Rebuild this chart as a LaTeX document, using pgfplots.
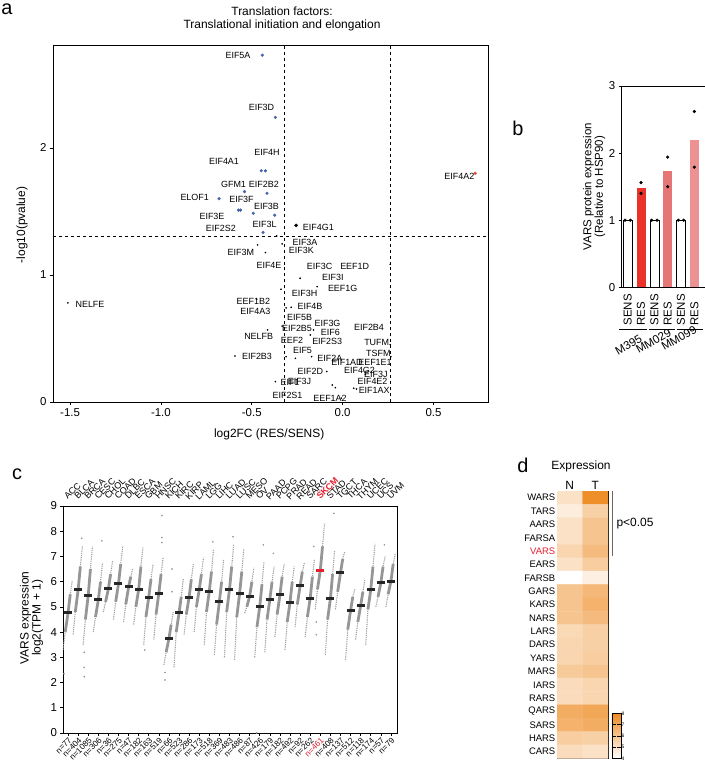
\documentclass[border=0pt]{standalone}
\usepackage{fontspec}
\setmainfont{Liberation Sans}
\usepackage{pgfplots}
\pgfplotsset{compat=1.18}
\usepackage{pgfplotstable}

\definecolor{ptblue}{RGB}{68,100,172}
\definecolor{ptred}{RGB}{222,82,60}
\definecolor{resA}{RGB}{232,50,42}
\definecolor{resB}{RGB}{230,118,118}
\definecolor{resC}{RGB}{236,146,146}
\definecolor{dotgray}{RGB}{150,150,150}
\definecolor{hlred}{RGB}{230,30,45}

\newcommand{\myfs}[1]{\fontsize{#1}{#1}\selectfont}
\newcommand{\lab}[3]{\node[font=\myfs{9}, inner sep=0pt] at (#1bp,761bp-#2bp) {#3};}

% panel a: volcano points
\pgfplotstableread{
x y
-0.442 2.73
-0.370 2.24
-0.448 1.82
-0.425 1.82
-0.540 1.656
-0.416 1.643
-0.680 1.60
-0.573 1.51
-0.562 1.51
-0.492 1.486
-0.374 1.47
-0.438 1.335
}\bluepts
\pgfplotstableread{
x y
-0.363 1.307
-0.333 1.244
-0.468 1.236
-0.425 1.176
0.262 1.084
-0.234 0.974
-0.140 0.908
-0.339 0.887
-1.512 0.78
-0.473 0.81
-0.311 0.74
-0.283 0.745
-0.333 0.598
-0.413 0.567
-0.160 0.567
-0.178 0.528
-0.593 0.362
-0.311 0.357
-0.260 0.344
-0.171 0.357
-0.087 0.24
-0.057 0.134
-0.040 0.113
-0.370 0.16
0.061 0.108
0.076 0.102
0.125 0.218
0.265 0.357
0.262 0.45
-0.007 0.03
}\blackpts

% panel c: sorted expression per cancer type (min, lo, median, hi, max)
\pgfplotstableread{
x y k
-0.5 3.3 0
-0.28 4.0 1
0 4.76 1
0.22 5.5 1
0.42 6.05 0
nan nan 0
0.5 3.9 0
0.72 4.8 1
1 5.68 1
1.22 6.6 1
1.42 7.4 0
nan nan 0
1.5 3.5 0
1.72 4.5 1
2 5.46 1
2.22 6.5 1
2.42 7.4 0
nan nan 0
2.5 4.0 0
2.72 4.6 1
3 5.28 1
3.22 6.0 1
3.42 6.75 0
nan nan 0
3.5 4.8 0
3.72 5.2 1
4 5.72 1
4.22 6.3 1
4.42 6.83 0
nan nan 0
4.5 4.5 0
4.72 5.2 1
5 5.92 1
5.22 6.7 1
5.42 7.39 0
nan nan 0
5.5 4.4 0
5.72 5.1 1
6 5.79 1
6.22 6.2 1
6.42 6.53 0
nan nan 0
6.5 4.3 0
6.72 5.0 1
7 5.69 1
7.22 6.6 1
7.42 7.36 0
nan nan 0
7.5 3.5 0
7.72 4.6 1
8 5.39 1
8.22 6.1 1
8.42 6.7 0
nan nan 0
8.5 3.7 0
8.72 4.7 1
9 5.55 1
9.22 6.3 1
9.42 6.95 0
nan nan 0
9.5 2.7 0
9.72 3.2 1
10 3.74 1
10.22 4.3 1
10.42 4.8 0
nan nan 0
10.5 2.6 0
10.72 4.0 1
11 4.76 1
11.22 5.4 1
11.42 6.1 0
nan nan 0
11.5 3.9 0
11.72 4.7 1
12 5.39 1
12.22 6.1 1
12.42 6.7 0
nan nan 0
12.5 4.0 0
12.72 5.0 1
13 5.68 1
13.22 6.3 1
13.42 6.95 0
nan nan 0
13.5 3.5 0
13.72 4.8 1
14 5.63 1
14.22 6.4 1
14.42 7.3 0
nan nan 0
14.5 3.1 0
14.72 4.3 1
15 5.22 1
15.22 6.0 1
15.42 6.9 0
nan nan 0
15.5 3.0 0
15.72 4.8 1
16 5.69 1
16.22 6.6 1
16.42 7.5 0
nan nan 0
16.5 2.9 0
16.72 4.6 1
17 5.52 1
17.22 6.4 1
17.42 7.3 0
nan nan 0
17.5 4.75 0
17.72 5.0 1
18 5.43 1
18.22 6.0 1
18.42 6.55 0
nan nan 0
18.5 3.0 0
18.72 4.2 1
19 5.02 1
19.22 5.9 1
19.42 6.8 0
nan nan 0
19.5 3.2 0
19.72 4.5 1
20 5.30 1
20.22 6.0 1
20.42 6.6 0
nan nan 0
20.5 3.8 0
20.72 4.7 1
21 5.48 1
21.22 6.2 1
21.42 6.7 0
nan nan 0
21.5 3.3 0
21.72 4.4 1
22 5.19 1
22.22 6.0 1
22.42 6.6 0
nan nan 0
22.5 4.2 0
22.72 5.1 1
23 5.83 1
23.22 6.4 1
23.42 6.75 0
nan nan 0
23.5 3.8 0
23.72 4.6 1
24 5.35 1
24.22 6.2 1
24.42 6.9 0
nan nan 0
24.5 4.9 0
24.72 5.7 1
25 6.45 1
25.22 7.4 1
25.42 8.3 0
nan nan 0
25.5 3.1 0
25.72 4.5 1
26 5.32 1
26.22 6.3 1
26.42 7.25 0
nan nan 0
26.5 4.9 0
26.72 5.6 1
27 6.35 1
27.22 6.9 1
27.42 7.19 0
nan nan 0
27.5 2.9 0
27.72 4.1 1
28 4.86 1
28.22 5.4 1
28.42 5.7 0
nan nan 0
28.5 3.7 0
28.72 4.4 1
29 5.06 1
29.22 5.6 1
29.42 6.1 0
nan nan 0
29.5 3.5 0
29.72 4.9 1
30 5.69 1
30.22 6.6 1
30.42 7.5 0
nan nan 0
30.5 5.0 0
30.72 5.4 1
31 5.96 1
31.22 6.6 1
31.42 7.0 0
nan nan 0
31.5 5.0 0
31.72 5.5 1
32 6.02 1
32.22 6.7 1
32.42 7.1 0
}\curves
\pgfplotstableread{
x y
-0.4 2.35
1.35 7.72
1.6 3.2
1.6 2.6
1.6 2.23
3.35 7.62
7.6 3.29
9.3 8.62
9.3 7.75
9.3 7.55
10.3 6.5
10.3 5.6
9.6 2.1
9.6 2.4
14.35 7.58
16.35 7.78
18.7 0
19.35 7.46
20.35 7.12
24.35 7.39
24.6 3.9
24.6 4.4
26.35 8.71
31.35 7.46
}\outl
\pgfplotstableread{
x y
0 4.76
1 5.68
2 5.46
3 5.28
4 5.72
5 5.92
6 5.79
7 5.69
8 5.39
9 5.55
10 3.74
11 4.76
12 5.39
13 5.68
14 5.63
15 5.22
16 5.69
17 5.52
18 5.43
19 5.02
20 5.30
21 5.48
22 5.19
23 5.83
24 5.35
26 5.32
27 6.35
28 4.86
29 5.06
30 5.69
31 5.96
32 6.02
}\medians

% panel d: heatmap (row 0 = WARS ... row 19 = CARS), N and T
\pgfplotstableread{
x y c
0 0 5.0
1 0 7.8
0 1 4.6
1 1 5.6
0 2 5.0
1 2 6.0
0 3 5.0
1 3 6.0
0 4 5.4
1 4 6.3
0 5 5.0
1 5 5.7
0 6 4.0
1 6 4.5
0 7 6.0
1 7 6.4
0 8 6.0
1 8 6.6
0 9 6.0
1 9 6.3
0 10 5.3
1 10 5.6
0 11 5.4
1 11 5.6
0 12 5.4
1 12 5.7
0 13 5.8
1 13 6.0
0 14 5.2
1 14 5.4
0 15 5.2
1 15 5.4
0 16 6.8
1 16 7.0
0 17 6.6
1 17 6.8
0 18 5.7
1 18 5.6
0 19 5.2
1 19 5.0
}\heat

\pgfplotsset{
  every axis/.append style={
    scale only axis, anchor=south west,
    /pgf/number format/assume math mode=true,
    axis line style={line width=0.8pt},
    tick style={line width=0.6pt, black},
    tick align=outside,
    tick label style={font=\myfs{11.5}},
    label style={font=\myfs{12}},
  },
}

\begin{document}
\begin{tikzpicture}
\useasboundingbox (0,0) rectangle (705bp,761bp);

% ---------- a ----------
\begin{axis}[
  at={(53bp,359bp)}, width=435bp, height=357bp,
  xmin=-1.594, xmax=0.80, ymin=0, ymax=2.81,
  xtick={-1.5,-1,-0.5,0,0.5}, xticklabels={-1.5,-1.0,-0.5,0.0,0.5},
  ytick={0,1,2},
  tick pos=left, major tick length=3bp,
  xlabel={log2FC (RES/SENS)}, ylabel={-log10(pvalue)},
  xlabel style={at={(axis description cs:0.497,-0.092)}, anchor=center},
  ylabel style={at={(axis description cs:-0.071,0.496)}, anchor=center},
]
\addplot[black, dashed, line width=0.6pt] coordinates {(-0.322,0) (-0.322,2.81)};
\addplot[black, dashed, line width=0.6pt] coordinates {(0.263,0) (0.263,2.81)};
\addplot[black, dashed, line width=0.6pt] coordinates {(-1.594,1.301) (0.80,1.301)};
\addplot[only marks, mark=*, mark size=0.6bp, black] table {\blackpts};
\addplot[only marks, mark=*, mark size=1.4bp, ptblue] table {\bluepts};
\addplot[only marks, mark=*, mark size=1.6bp, black] coordinates {(-0.256,1.39)};
\addplot[only marks, mark=*, mark size=1.5bp, ptred] coordinates {(0.729,1.80)};
\end{axis}

% ---------- b ----------
\begin{axis}[
  at={(621.7bp,473.7bp)}, width=83.3bp, height=201.3bp,
  xmin=-0.45, xmax=5.8, ymin=0, ymax=3,
  ytick={0,1,2,3}, ytick pos=left, major tick length=3bp,
  xtick={0,...,5}, xticklabels={SENS,RES,SENS,RES,SENS,RES},
  xtick style={draw=none},
  xticklabel style={rotate=90, anchor=east, text width=34bp, align=left,
    font=\myfs{11.5}, inner sep=1bp},
  ylabel={VARS protein expression\\(Relative to HSP90)},
  ylabel style={align=center, at={(axis description cs:-0.33,0.5)},
    anchor=center, font=\myfs{11.5}},
  bar width=9bp,
]
\addplot[ybar, draw=black, fill=white, line width=0.7pt] coordinates {(0,1) (2,1) (4,1)};
\addplot[ybar, draw=none, fill=resA] coordinates {(1,1.48)};
\addplot[ybar, draw=none, fill=resB] coordinates {(3,1.73)};
\addplot[ybar, draw=none, fill=resC] coordinates {(5,2.2)};
\addplot[only marks, mark=*, mark size=1.4bp, black] coordinates {
  (-0.2,1) (0.2,1) (1,1.56) (1,1.40) (1.8,1) (2.2,1)
  (3,1.94) (3,1.50) (3.8,1) (4.2,1) (5,2.62) (5,1.79)};
\end{axis}

% ---------- c ----------
\begin{axis}[
  at={(63bp,28bp)}, width=334bp, height=227bp,
  xmin=-0.5, xmax=32.6, ymin=0, ymax=9,
  ytick={0,...,9}, tick pos=left, major tick length=2.5bp,
  xtick={0,...,32},
  xticklabels={{n=77},{n=404},{n=1085},{n=306},{n=36},{n=275},{n=47},{n=182},{n=163},{n=519},{n=66},{n=523},{n=286},{n=173},{n=518},{n=369},{n=483},{n=486},{n=87},{n=426},{n=179},{n=182},{n=492},{n=92},{n=262},{\color{hlred}n=461},{n=408},{n=137},{n=512},{n=118},{n=174},{n=57},{n=79}},
  xticklabel style={rotate=45, anchor=north east, font=\myfs{8.2}, inner sep=1bp},
  ylabel={VARS expression\\log2(TPM + 1)},
  ylabel style={align=center, at={(axis description cs:-0.094,0.507)}, anchor=center},
  unbounded coords=jump,
]
\addplot[dotgray!90, line width=1.1pt, loosely dashed, dash pattern=on 1.2pt off 1pt] table[x=x, y=y] {\curves};
\addplot[dotgray, line width=2.8pt, restrict expr to domain={\thisrow{k}}{0.5:1.5}] table[x=x, y=y] {\curves};
\addplot[only marks, mark=*, mark size=0.6bp, dotgray] table {\outl};
\addplot[only marks, mark=-, mark size=4bp, mark options={line width=3bp}, black!85] table {\medians};
\addplot[only marks, mark=-, mark size=4bp, mark options={line width=3bp}, hlred] coordinates {(25,6.45)};
\end{axis}
\begin{axis}[
  at={(63bp,28bp)}, width=334bp, height=227bp,
  xmin=-0.5, xmax=32.6, ymin=0, ymax=9,
  axis x line*=top, axis y line=none,
  xtick={0,...,32},
  xticklabels={ACC,BLCA,BRCA,CESC,CHOL,COAD,DLBC,ESCA,GBM,HNSC,KICH,KIRC,KIRP,LAML,LGG,LIHC,LUAD,LUSC,MESO,OV,PAAD,PCPG,PRAD,READ,SARC,{\color{hlred}\bfseries SKCM},STAD,TGCT,THCA,THYM,UCEC,UCS,UVM},
  xtick style={draw=none},
  xticklabel style={rotate=45, anchor=south west, font=\myfs{9}, inner sep=1bp},
]
\addplot[draw=none] coordinates {(0,0)};
\end{axis}

% ---------- d ----------
\begin{axis}[
  at={(557bp,2.7bp)}, width=51bp, height=267.3bp,
  xmin=-0.5, xmax=1.5, ymin=-0.5, ymax=19.5, y dir=reverse,
  xtick={0,1}, xticklabels={N,T}, xticklabel pos=upper,
  xticklabel style={font=\myfs{12}, inner sep=1bp},
  ytick={0,...,19},
  yticklabels={WARS,TARS,AARS,FARSA,{\color{hlred}VARS},EARS,FARSB,GARS,KARS,NARS,LARS,DARS,YARS,MARS,IARS,RARS,QARS,SARS,HARS,CARS},
  yticklabel style={font=\myfs{9.5}, inner sep=1.5bp},
  major tick length=0pt,
  colormap={orng}{rgb255(0cm)=(255,255,255); rgb255(1cm)=(238,138,32)},
  point meta min=4, point meta max=8,
  colorbar,
  colorbar style={
    at={(1.078,0)}, anchor=south west,
    width=9bp, height=45bp, scale only axis,
    ytick={4,5,6,7,8},
    yticklabel style={font=\myfs{5}, inner sep=0.5bp},
    major tick length=9bp, tick align=inside,
    ytick style={densely dashed, line width=0.5pt},
    axis line style={line width=0.8pt},
  },
]
\addplot[matrix plot*, mesh/cols=2, point meta=explicit] table[x=x, y=y, meta=c] {\heat};
\end{axis}

% ---------- texts and decorations ----------
\node[font=\fontsize{12}{12.7}\selectfont, align=center] at (282bp,742bp)
  {Translation factors:\\Translational initiation and elongation};

\node[font=\myfs{20}] at (7bp,752bp) {a};
\node[font=\myfs{20}] at (518bp,633bp) {b};
\node[font=\myfs{20}] at (17bp,287bp) {c};
\node[font=\myfs{20}] at (523bp,296bp) {d};

\lab{238}{55}{EIF5A}
\lab{261.5}{107}{EIF3D}
\lab{267}{152}{EIF4H}
\lab{224}{161}{EIF4A1}
\lab{233.5}{184}{GFM1}
\lab{263.8}{184}{EIF2B2}
\lab{194.7}{197.3}{ELOF1}
\lab{241.5}{199.3}{EIF3F}
\lab{266.5}{206}{EIF3B}
\lab{212}{216.7}{EIF3E}
\lab{264.7}{224}{EIF3L}
\lab{220.8}{228.7}{EIF2S2}
\lab{318.3}{227.3}{EIF4G1}
\lab{305}{242.7}{EIF3A}
\lab{301.3}{250.7}{EIF3K}
\lab{240.8}{252.7}{EIF3M}
\lab{269}{265.7}{EIF4E}
\lab{319.7}{266.7}{EIF3C}
\lab{354.7}{266.7}{EEF1D}
\lab{332.8}{277.7}{EIF3I}
\lab{342.7}{288}{EEF1G}
\lab{304.7}{293.3}{EIF3H}
\lab{90}{304}{NELFE}
\lab{253.3}{301}{EEF1B2}
\lab{255.3}{311.3}{EIF4A3}
\lab{310}{306.7}{EIF4B}
\lab{299.7}{317.7}{EIF5B}
\lab{327.5}{323.3}{EIF3G}
\lab{297}{328.3}{EIF2B5}
\lab{369}{327.3}{EIF2B4}
\lab{330.3}{332}{EIF6}
\lab{258.7}{336.7}{NELFB}
\lab{292}{340.7}{EEF2}
\lab{327.2}{341.7}{EIF2S3}
\lab{376.7}{342.7}{TUFM}
\lab{302.5}{350}{EIF5}
\lab{378.3}{353.3}{TSFM}
\lab{257}{356.7}{EIF2B3}
\lab{329.8}{358.3}{EIF2A}
\lab{347}{362.7}{EIF1AD}
\lab{375}{362.7}{EEF1E1}
\lab{310.3}{371}{EIF2D}
\lab{359.5}{370.7}{EIF4G2}
\lab{375.8}{374}{EIF3J}
\lab{372.5}{381.7}{EIF4E2}
\lab{299.5}{381.7}{EIF3J}
\lab{290}{382.7}{EIF1}
\lab{374.2}{390.7}{EIF1AX}
\lab{287.5}{395}{EIF2S1}
\lab{330}{398.3}{EEF1A2}
\lab{459.3}{176.7}{EIF4A2}

% b: cell line groups
\draw[line width=0.6pt] (619bp,432bp) -- (647bp,432bp);
\draw[line width=0.6pt] (649bp,432bp) -- (675bp,432bp);
\draw[line width=0.6pt] (677bp,432bp) -- (703bp,432bp);
\node[font=\myfs{11.5}, rotate=30, inner sep=0pt] at (628.5bp,416bp) {M395};
\node[font=\myfs{11.5}, rotate=30, inner sep=0pt] at (653.5bp,420bp) {MM029};
\node[font=\myfs{11.5}, rotate=30, inner sep=0pt] at (679bp,423bp) {MM099};

% d: title, significance bracket
\node[font=\myfs{12}, inner sep=0pt] at (581bp,295bp) {Expression};
\draw[gray!80!black, line width=0.8pt] (612bp,270bp) -- (612bp,205bp);
\node[font=\myfs{12}, inner sep=0pt] at (635bp,237bp) {p<0.05};
\end{tikzpicture}
\end{document}
